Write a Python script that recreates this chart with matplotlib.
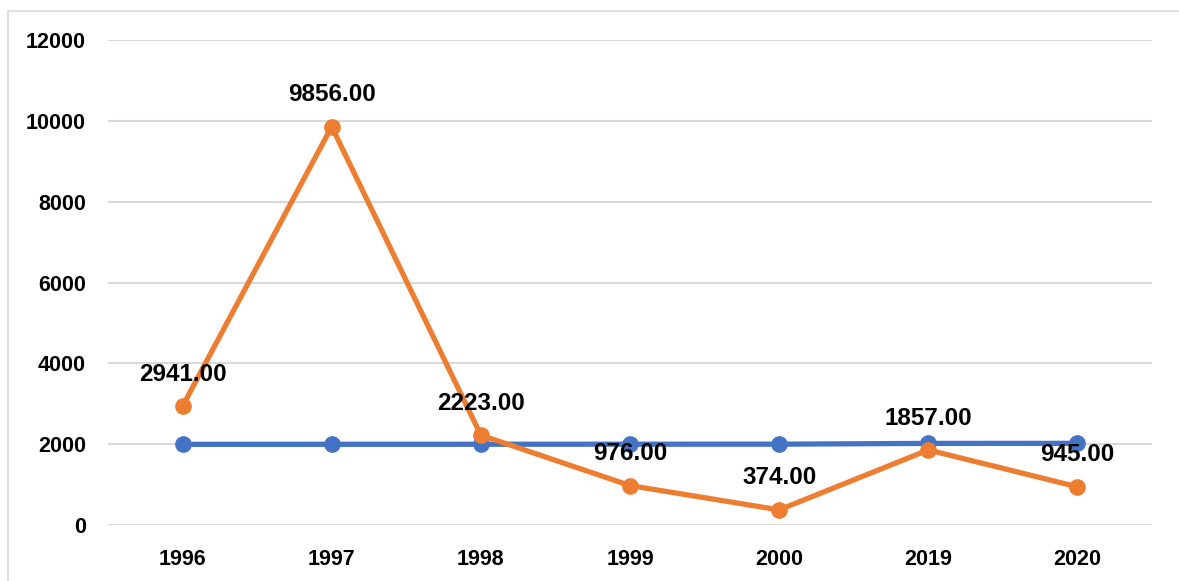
import matplotlib
matplotlib.use("Agg")
import matplotlib.pyplot as plt
from matplotlib.patches import Rectangle

years = ["1996", "1997", "1998", "1999", "2000", "2019", "2020"]
year_values = [1996, 1997, 1998, 1999, 2000, 2019, 2020]
counts = [2941, 9856, 2223, 976, 374, 1857, 945]
yticks = [0, 2000, 4000, 6000, 8000, 10000, 12000]

plt.rcParams['font.family'] = ['Liberation Sans', 'DejaVu Sans']

fig = plt.figure(figsize=(11.79, 5.81), dpi=100)
ax = fig.add_axes([108/1179, 1-525/581, (1152-108)/1179, (525-40)/581])

x = list(range(len(years)))
blue = "#4472C4"
orange = "#ED7D31"
ax.plot(x, year_values, color=blue, lw=3.8, marker="o", ms=11, zorder=3)
ax.plot(x, counts, color=orange, lw=3.8, marker="o", ms=11, zorder=4)

for i, v in enumerate(counts):
    ax.annotate(f"{v:.2f}", (i, v), xytext=(0, 23), textcoords="offset points",
                ha="center", va="center", fontsize=17.5, fontweight="bold",
                color="black", zorder=6)

ax.set_xlim(-0.5, len(years) - 0.5)
ax.set_ylim(0, 12000)
ax.set_xticks(x)
ax.set_xticklabels(years)
ax.set_yticks(yticks)
ax.set_yticklabels([str(t) for t in yticks])
ax.tick_params(axis="both", length=0, labelsize=15.5, pad=0)
ax.tick_params(axis="y", pad=16)
ax.tick_params(axis="x", pad=17)
for lbl in ax.get_xticklabels() + ax.get_yticklabels():
    lbl.set_fontweight("bold")
ax.grid(axis="y", color="#d9d9d9", lw=1.5)
ax.set_axisbelow(True)
for s in ax.spines.values():
    s.set_visible(False)

fig.patches.append(Rectangle((8/1179, -0.1), 1.2, 1.1 - 11/581, transform=fig.transFigure,
                             fill=False, edgecolor="#d9d9d9", lw=1.2))

fig.savefig("out.png", dpi=100)
